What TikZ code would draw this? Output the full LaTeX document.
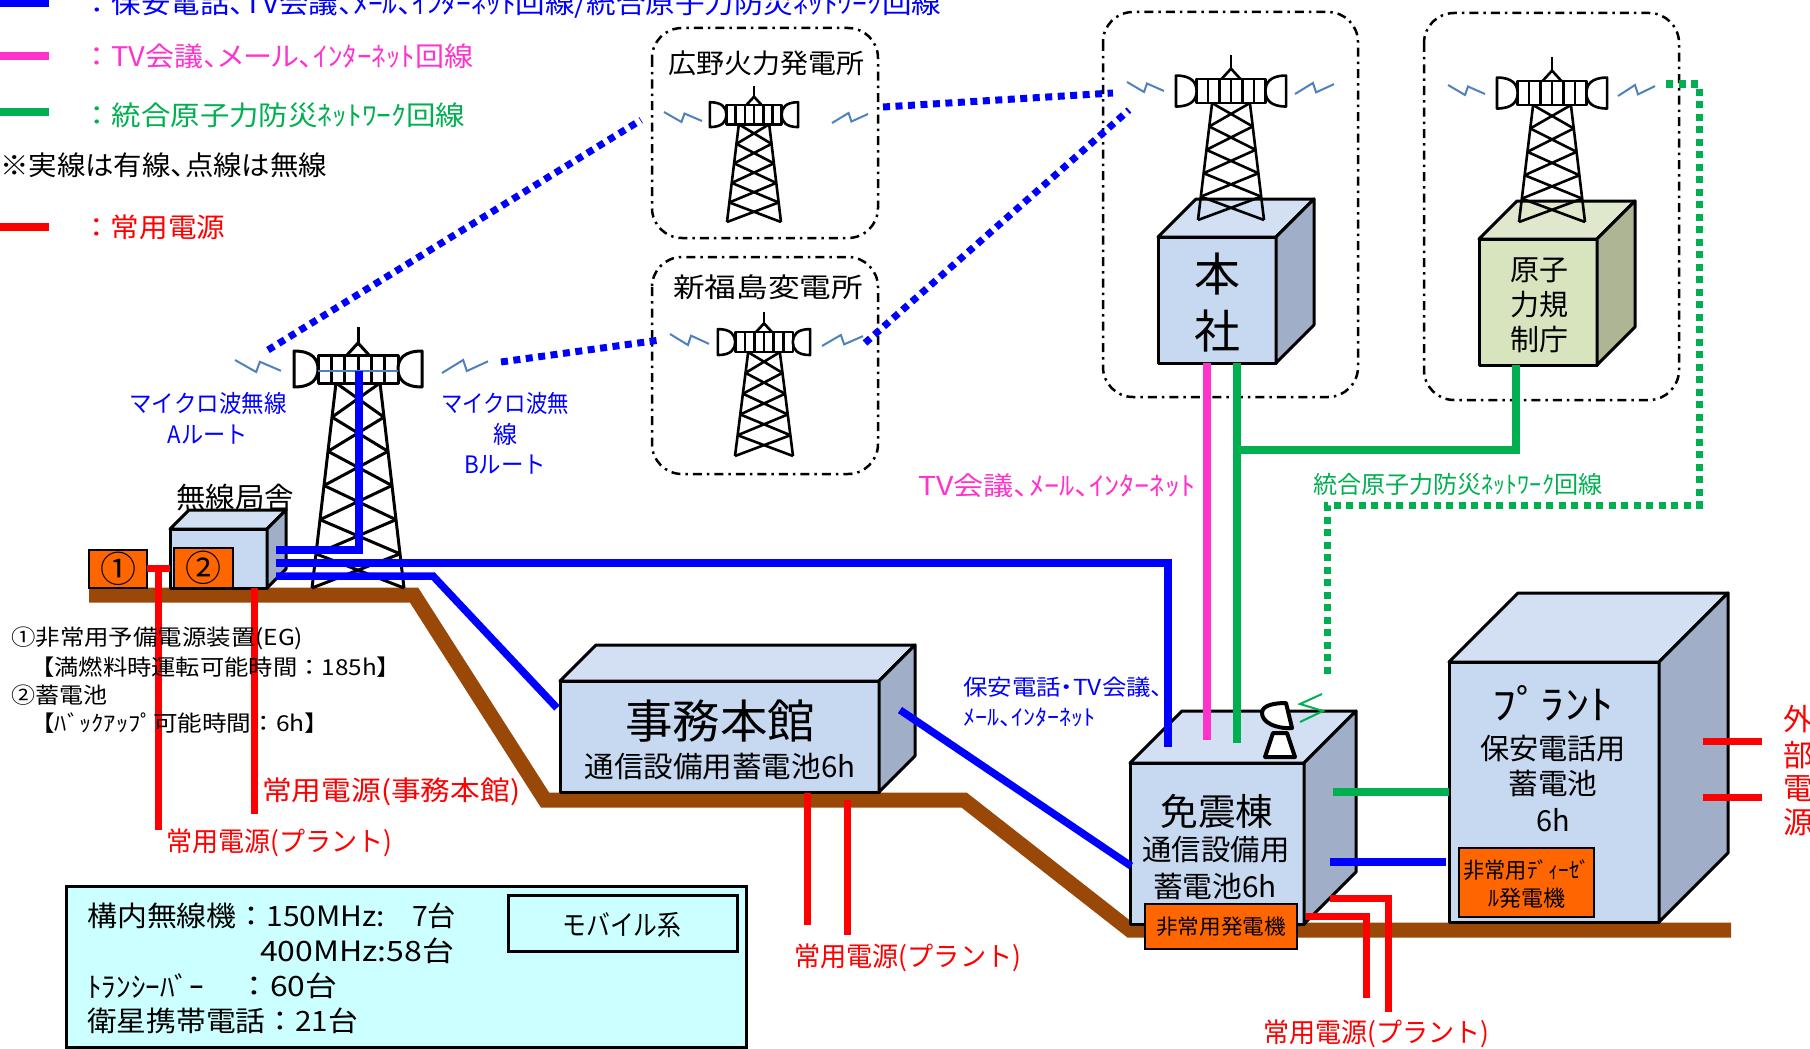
\documentclass[tikz,border=0pt]{standalone}
\usepackage{fontspec}
\setmainfont{Noto Sans CJK JP}
\newfontfamily\pfont{Noto Sans CJK JP}[RawFeature=+palt]
\usepackage{graphicx}

\definecolor{netblue}{RGB}{0,0,255}
\definecolor{netpink}{RGB}{255,51,204}
\definecolor{netgreen}{RGB}{0,176,80}
\definecolor{pwrred}{RGB}{255,0,0}
\definecolor{ground}{RGB}{153,72,8}
\definecolor{genorange}{RGB}{255,102,0}
\definecolor{wave}{RGB}{79,129,189}
\definecolor{bldfront}{RGB}{198,217,241}
\definecolor{bldtop}{RGB}{211,224,244}
\definecolor{bldside}{RGB}{160,175,199}
\definecolor{regfront}{RGB}{215,228,189}
\definecolor{regtop}{RGB}{223,232,204}
\definecolor{regside}{RGB}{173,181,149}
\definecolor{infobg}{RGB}{204,255,255}

\newcommand\fs[1]{\fontsize{#1pt}{#1pt}\selectfont}
\newcommand\fitw[2]{\resizebox{#1pt}{\height}{#2}}

% box building: x1 y1 x2 y2 (front face), depth, front/top/side colours
\newcommand\bldg[8]{%
  \filldraw[cubeline,fill=#6] (#1,#2) rectangle (#3,#4);
  \filldraw[cubeline,fill=#7] (#1,#2) -- ({#1+#5},{#2-#5}) -- ({#3+#5},{#2-#5}) -- (#3,#2) -- cycle;
  \filldraw[cubeline,fill=#8] (#3,#2) -- ({#3+#5},{#2-#5}) -- ({#3+#5},{#4-#5}) -- (#3,#4) -- cycle;}

% lattice radio tower: centre x, head top y, scale, foot y, foot half-width, sections, line width
\newcommand\radiotower[7]{%
  \begin{scope}[shift={(#1,#2)}, line width=#7, line join=round]
    \pgfmathsetmacro\twT{28*#3}
    \pgfmathsetmacro\twB{#4-#2}
    \pgfmathsetmacro\twLt{22*#3}
    \pgfmathsetmacro\twLb{#5}
    \draw (-\twLt,\twT) -- (-\twLb,\twB) (\twLt,\twT) -- (\twLb,\twB);
    \foreach \k in {1,...,#6}{%
      \pgfmathsetmacro\twYa{\twT+(\twB-\twT)*(\k-1)/#6}
      \pgfmathsetmacro\twYb{\twT+(\twB-\twT)*\k/#6}
      \pgfmathsetmacro\twXa{\twLt+(\twLb-\twLt)*(\k-1)/#6}
      \pgfmathsetmacro\twXb{\twLt+(\twLb-\twLt)*\k/#6}
      \draw (-\twXa,\twYa) -- (\twXb,\twYb) (\twXa,\twYa) -- (-\twXb,\twYb);
    }
    \draw (0,{-12*#3}) -- (0,{-28*#3});
    \draw ({-11*#3},0) -- (0,{-12*#3}) -- ({11*#3},0);
    \filldraw[fill=white] ({-40*#3},0) rectangle ({40*#3},\twT);
    \foreach \k in {1,...,5}
      \draw ({(-40+80*\k/6)*#3},0) -- ({(-40+80*\k/6)*#3},\twT);
    \filldraw[fill=white] ({-64*#3},{-4*#3}) -- ({-64*#3},{32*#3})
      .. controls ({-46*#3},{32*#3}) and ({-40*#3},{24*#3}) .. ({-40*#3},{14*#3})
      .. controls ({-40*#3},{4*#3}) and ({-46*#3},{-4*#3}) .. ({-64*#3},{-4*#3}) -- cycle;
    \filldraw[fill=white] ({64*#3},{-4*#3}) -- ({64*#3},{32*#3})
      .. controls ({46*#3},{32*#3}) and ({40*#3},{24*#3}) .. ({40*#3},{14*#3})
      .. controls ({40*#3},{4*#3}) and ({46*#3},{-4*#3}) .. ({64*#3},{-4*#3}) -- cycle;
  \end{scope}}

% radio wave marks
\newcommand\zigL[4]{\draw[zig] (#1,#2) -- ++({0.46*#3},#4) -- ++({0.08*#3},{-0.85*#4}) -- ++({0.46*#3},{0.75*#4});}
\newcommand\zigR[4]{\draw[zig] (#1,{#2+#4}) -- ++({0.46*#3},{-#4}) -- ++({0.08*#3},{0.85*#4}) -- ++({0.46*#3},{-0.75*#4});}

\tikzset{
  cable/.style={line width=7.5pt},
  radio/.style={line width=7pt, dash pattern=on 7pt off 5.5pt},
  power/.style={draw=pwrred, line width=7pt},
  zig/.style={draw=wave, line width=2pt},
  cubeline/.style={draw=black, line width=3pt, line join=round},
  stationbox/.style={draw=black, line width=2.5pt, rounded corners=30pt,
    dash pattern=on 9pt off 5pt on 2.5pt off 5pt},
  gen/.style={draw=black, line width=2.8pt, fill=genorange},
  lbl/.style={inner sep=0pt},
}

\begin{document}
\begin{tikzpicture}[x=1pt,y=-1pt]
\useasboundingbox (0,0) rectangle (1810,1049);
\clip (0,0) rectangle (1810,1049);

% ---------- legend ----------
\draw[cable,netblue] (0,3) -- (49,3);
\draw[cable,netpink] (0,56) -- (49,56);
\draw[cable,netgreen] (0,112) -- (49,112);
\draw[cable,pwrred] (0,227) -- (49,227);
\node[lbl,anchor=west,text=netblue] (lgBlue) at (82,5) {\fs{27}\fitw{859}{：{\pfont 保安電話、TV会議、ﾒｰﾙ、ｲﾝﾀｰﾈｯﾄ回線/統合原子力防災ﾈｯﾄﾜｰｸ回線}}};
\node[lbl,anchor=west,text=netpink] (lgPink) at (82,56) {\fs{27}\fitw{391}{：{\pfont TV会議、メール、ｲﾝﾀｰﾈｯﾄ回線}}};
\node[lbl,anchor=west,text=netgreen] (lgGreen) at (82,115) {\fs{27}\fitw{383}{：統合原子力防災ﾈｯﾄﾜｰｸ回線}};
\node[lbl,anchor=west] (lgNote) at (0,165) {\fs{27}\pfont\fitw{327}{※実線は有線、点線は無線}};
\node[lbl,anchor=west,text=pwrred] (lgRed) at (82,227) {\fs{27}\fitw{143}{：常用電源}};

% ---------- remote sites ----------
\draw[stationbox] (652,28) rectangle (878,238);
\draw[stationbox] (652,257) rectangle (878,474);
\draw[stationbox] (1103,12) rectangle (1358,397);
\draw[stationbox] (1424,13) rectangle (1679,400);
\node[lbl] (hirono) at (766,63) {\fs{27}\fitw{196}{広野火力発電所}};
\node[lbl] (shinfuku) at (768,287) {\fs{27}\fitw{190}{新福島変電所}};

% ---------- microwave links ----------
\coordinate (aStart) at (268,350);  \coordinate (aEnd) at (641,120);
\coordinate (bStart) at (501,362);  \coordinate (bEnd) at (660,340);
\coordinate (hiOut) at (883,107);   \coordinate (hqInA) at (1113,93);
\coordinate (sfOut) at (865,343);   \coordinate (hqInB) at (1129,110);
\draw[radio,netblue] (aStart) -- (aEnd);
\draw[radio,netblue] (bStart) -- (bEnd);
\draw[radio,netblue] (hiOut) -- (hqInA);
\draw[radio,netblue] (sfOut) -- (hqInB);
\coordinate (nraOut) at (1666,84);
\coordinate (mtRadio) at (1327,675);
\draw[radio,netgreen] (nraOut) -| (1699,505) -| (mtRadio);

% ---------- ground ----------
\draw[ground,line width=15pt] (89,595) -- (414,595) -- (545,800) -- (964,800) -- (1130,930) -- (1731,930);

% ---------- buildings ----------
\bldg{170}{529}{267}{588}{19}{bldfront}{bldtop}{bldside}
\bldg{560}{681}{879}{792}{36}{bldfront}{bldtop}{bldside}
\bldg{1158}{237}{1276}{363}{38}{bldfront}{bldtop}{bldside}
\bldg{1479}{239}{1597}{365}{38}{regfront}{regtop}{regside}
\bldg{1130}{763}{1304}{924}{52}{bldfront}{bldtop}{bldside}
\bldg{1449}{662}{1659}{922}{69}{bldfront}{bldtop}{bldside}

% ---------- towers ----------
\radiotower{358}{355}{1}{588}{46}{6}{3pt}
\draw[wave,line width=2pt] (318,371) -- (398,371);
\radiotower{754}{105}{0.69}{222}{27}{5}{2.6pt}
\radiotower{764}{332}{0.72}{456}{29}{5}{2.6pt}
\radiotower{1231}{79}{0.86}{220}{33}{5}{2.6pt}
\radiotower{1552}{81}{0.86}{222}{33}{5}{2.6pt}

\zigL{235}{360}{46}{12} \zigR{442}{360}{46}{13}
\zigL{664}{112}{38}{10} \zigR{832}{113}{36}{10}
\zigL{670}{334}{39}{11} \zigR{822}{335}{41}{11}
\zigL{1127}{82}{37}{10} \zigR{1295}{83}{39}{11}
\zigL{1448}{85}{37}{10} \zigR{1618}{85}{37}{11}

% ---------- generators ----------
\filldraw[gen] (89,550) rectangle (147,588);
\filldraw[gen] (174,548) rectangle (233,588);
\node[lbl] (egOne) at (118,569) {\fs{36}①};
\node[lbl] (egTwo) at (203,568) {\fs{36}②};
\filldraw[gen] (1145,904) rectangle (1297,949);
\node[lbl] (mtGen) at (1221,927) {\fs{21}\fitw{130}{非常用発電機}};
\filldraw[gen] (1459,848) rectangle (1594,917);
\node[lbl] (plGenA) at (1527,870) {\fs{22}\fitw{127}{非常用ﾃﾞｨｰｾﾞ}};
\node[lbl] (plGenB) at (1527,898) {\fs{22}\fitw{77}{ﾙ発電機}};

% ---------- satellite antenna on the seismic-isolated building ----------
\filldraw[fill=white,line width=4pt,line join=round] (1273,733) -- (1287,733) -- (1295,757) -- (1265,757) -- cycle;
\filldraw[fill=white,line width=4pt,line join=round] (1286,703) -- (1292,728)
  .. controls (1275,729) and (1262,722) .. (1262,713)
  .. controls (1262,705) and (1275,703) .. (1286,703) -- cycle;
\draw[netgreen,line width=2pt] (1322,694) -- (1300,704) -- (1323,711) -- (1300,722);

% ---------- wired links ----------
\coordinate (twTop) at (359,371);
\coordinate (kyA) at (276,550);
\coordinate (kyB) at (276,563);
\coordinate (kyC) at (276,576);
\coordinate (jmL) at (557,708);
\coordinate (jmR) at (900,710);
\coordinate (mtW) at (1131,866);
\coordinate (mtTopB) at (1168,747);
\coordinate (mtTopP) at (1207,740);
\coordinate (mtTopG) at (1237,743);
\coordinate (hqP) at (1207,363);
\coordinate (hqG) at (1237,363);
\coordinate (hqBranch) at (1237,450);
\coordinate (nraG) at (1516,365);
\coordinate (mtEG) at (1333,792);  \coordinate (plG) at (1449,792);
\coordinate (mtEB) at (1330,862);  \coordinate (plB) at (1446,862);
\draw[cable,netblue] (twTop) |- (kyA);
\draw[cable,netblue] (kyB) -| (mtTopB);
\draw[cable,netblue] (kyC) -- (433,576) -- (jmL);
\draw[cable,netblue] (jmR) -- (mtW);
\draw[cable,netpink] (hqP) -- (mtTopP);
\draw[cable,netgreen] (hqG) -- (mtTopG);
\draw[cable,netgreen] (hqBranch) -| (nraG);
\draw[cable,netgreen] (mtEG) -- (plG);
\draw[cable,netblue] (mtEB) -- (plB);

% ---------- commercial power ----------
\draw[power] (147,568) -- (170,568);
\draw[power] (158,568) -- (158,830);
\draw[power] (254,588) -- (254,814);
\draw[power] (807,793) -- (807,925);
\draw[power] (847,800) -- (847,935);
\draw[power] (1306,916) -| (1366,998);
\draw[power] (1330,898) -| (1388,1012);
\draw[power] (1703,741) -- (1762,741);
\draw[power] (1703,797) -- (1762,797);

% ---------- building labels ----------
\node[lbl] (radioHut) at (235,497) {\fs{29}\fitw{118}{無線局舎}};
\node[lbl] (hqA) at (1217,274) {\fs{46}本};
\node[lbl] (hqB) at (1217,331) {\fs{46}社};
\node[lbl] (nraA) at (1539,270) {\fs{29}原子};
\node[lbl] (nraB) at (1539,305) {\fs{29}力規};
\node[lbl] (nraC) at (1539,339) {\fs{29}制庁};
\node[lbl] (office) at (720,721) {\fs{46}\fitw{190}{事務本館}};
\node[lbl] (officeBat) at (720,767) {\fs{29}\fitw{271}{通信設備用蓄電池6h}};
\node[lbl] (mtName) at (1217,811) {\fs{37}\fitw{113}{免震棟}};
\node[lbl] (mtBatA) at (1216,850) {\fs{29}\fitw{147}{通信設備用}};
\node[lbl] (mtBatB) at (1215,886) {\fs{29}\fitw{124}{蓄電池6h}};
\node[lbl] (plName) at (1553,703) {\fs{40}\fitw{121}{ﾌﾟﾗﾝﾄ}};
\node[lbl] (plBatA) at (1553,749) {\fs{29}\fitw{146}{保安電話用}};
\node[lbl] (plBatB) at (1553,783) {\fs{29}\fitw{89}{蓄電池}};
\node[lbl] (plBatC) at (1553,820) {\fs{29}6h};
\node[lbl,text=pwrred] (extA) at (1798,719) {\fs{30}外};
\node[lbl,text=pwrred] (extB) at (1798,755) {\fs{30}部};
\node[lbl,text=pwrred] (extC) at (1798,789) {\fs{30}電};
\node[lbl,text=pwrred] (extD) at (1798,822) {\fs{30}源};

% ---------- link labels ----------
\node[lbl,text=netblue] (mwA1) at (208,403) {\fs{24}\fitw{157}{マイクロ波無線}};
\node[lbl,text=netblue] (mwA2) at (208,435) {\fs{24}\fitw{80}{Aルート}};
\node[lbl,text=netblue] (mwB1) at (505,403) {\fs{24}\fitw{128}{マイクロ波無}};
\node[lbl,text=netblue] (mwB2) at (505,434) {\fs{24}線};
\node[lbl,text=netblue] (mwB3) at (505,465) {\fs{24}\fitw{82}{Bルート}};
\node[lbl,anchor=west,text=netpink] (pinkLbl) at (918,486) {\fs{26}\pfont\fitw{277}{TV会議、ﾒｰﾙ、ｲﾝﾀｰﾈｯﾄ}};
\node[lbl,anchor=west,text=netgreen] (greenLbl) at (1313,484) {\fs{24}\fitw{289}{統合原子力防災ﾈｯﾄﾜｰｸ回線}};
\node[lbl,anchor=west,text=netblue] (blueLblA) at (963,687) {\fs{22}\pfont\fitw{200}{保安電話・TV会議、}};
\node[lbl,anchor=west,text=netblue] (blueLblB) at (963,717) {\fs{22}\pfont\fitw{132}{ﾒｰﾙ、ｲﾝﾀｰﾈｯﾄ}};

% ---------- backup power notes ----------
\node[lbl,anchor=west] (noteA) at (11,638) {\fs{22}\fitw{292}{①非常用予備電源装置(EG)}};
\node[lbl,anchor=west] (noteB) at (30,667) {\fs{22}\fitw{371}{【満燃料時運転可能時間：185h】}};
\node[lbl,anchor=west] (noteC) at (11,695) {\fs{22}\fitw{96}{②蓄電池}};
\node[lbl,anchor=west] (noteD) at (30,723) {\fs{22}\fitw{299}{【ﾊﾞｯｸｱｯﾌﾟ可能時間：6h】}};

\node[lbl,anchor=west,text=pwrred] (pwrOffice) at (262,792) {\fs{27}\fitw{258}{常用電源(事務本館)}};
\node[lbl,anchor=west,text=pwrred] (pwrPlantA) at (166,843) {\fs{27}\fitw{226}{常用電源(プラント)}};
\node[lbl,anchor=west,text=pwrred] (pwrPlantB) at (794,958) {\fs{27}\fitw{227}{常用電源(プラント)}};
\node[lbl,anchor=west,text=pwrred] (pwrPlantC) at (1263,1034) {\fs{27}\fitw{226}{常用電源(プラント)}};

% ---------- mobile equipment ----------
\filldraw[fill=infobg,line width=3pt] (66,886) rectangle (746,1047);
\draw[line width=3pt] (508,895) rectangle (737,951);
\node[lbl] (mobile) at (622,925) {\fs{28}\fitw{119}{モバイル系}};
\node[lbl,anchor=west] (infoA) at (87,916) {\fs{28}\fitw{298}{構内無線機：150MHz:}};
\node[lbl,anchor=west] (infoA2) at (412,916) {\fs{28}\fitw{44}{7台}};
\node[lbl,anchor=west] (infoB) at (260,951) {\fs{28}\fitw{194}{400MHz:58台}};
\node[lbl,anchor=west] (infoC) at (87,986) {\fs{28}\fitw{117}{ﾄﾗﾝｼｰﾊﾞｰ}};
\node[lbl,anchor=west] (infoC2) at (238,986) {\fs{28}\fitw{99}{：60台}};
\node[lbl,anchor=west] (infoD) at (87,1021) {\fs{28}\fitw{271}{衛星携帯電話：21台}};
\end{tikzpicture}
\end{document}
